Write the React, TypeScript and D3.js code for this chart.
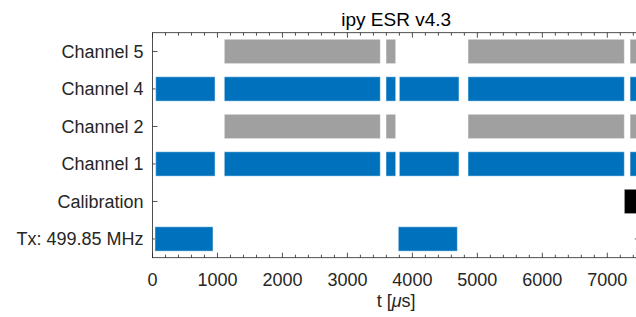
import React from "react";
import * as d3 from "d3";

// rows, top to bottom
const rows = ["Channel 5", "Channel 4", "Channel 2", "Channel 1", "Calibration", "Tx: 499.85 MHz"];

// pulse intervals in microseconds [start, end]
const channel5 = [[1105, 3506], [3594, 3743], [4856, 7262], [7350, 8000]];
const channel4 = [[49, 962], [1105, 3506], [3594, 3743], [3799, 4717], [4856, 7262], [7350, 8000]];
const channel2 = [[1105, 3506], [3594, 3743], [4856, 7262], [7350, 8000]];
const channel1 = [[49, 962], [1105, 3506], [3594, 3743], [3799, 4717], [4856, 7262], [7350, 8000]];
const calibration = [[7262, 8000]];
const tx = [[38, 931], [3783, 4692]];

const rowColors = ["#a0a0a0", "#0072bd", "#a0a0a0", "#0072bd", "#000000", "#0072bd"];
const rowData = [channel5, channel4, channel2, channel1, calibration, tx];

const xMajor = [0, 1000, 2000, 3000, 4000, 5000, 6000, 7000];
const xMinor = d3.range(0, 7501, 200);

const W = 636;
const H = 317;
const margin = { left: 152.5, right: 639.8, top: 32.7, bottom: 257.7 };
const axisColor = "#262626";
const font = "'Liberation Sans', Arial, Helvetica, sans-serif";

const App = () => {
  const x = d3.scaleLinear().domain([0, 7500]).range([margin.left, margin.right]);
  const y = d3.scalePoint().domain(rows).range([margin.top, margin.bottom]).padding(0.5);
  const step = y.step();
  const barH = step * 0.65;

  return (
    <svg
      width={W}
      height={H}
      style={{ position: "absolute", left: 0, top: 0, background: "#fff", fontFamily: font }}
    >
      <defs>
        <clipPath id="plot">
          <rect x={margin.left} y={margin.top} width={margin.right - margin.left} height={margin.bottom - margin.top} />
        </clipPath>
      </defs>

      {/* ticks sit under the data, like matlab's default layer */}
      <g stroke={axisColor} strokeWidth={0.8}>
        {xMinor.map((v) => {
          const len = v % 1000 === 0 ? 5 : 3;
          return (
            <g key={v}>
              <line x1={x(v)} x2={x(v)} y1={margin.bottom} y2={margin.bottom - len} />
              <line x1={x(v)} x2={x(v)} y1={margin.top} y2={margin.top + len} />
            </g>
          );
        })}
        {rows.map((r) => (
          <g key={r}>
            <line x1={margin.left} x2={margin.left + 5} y1={y(r)} y2={y(r)} />
            <line x1={margin.right} x2={margin.right - 5} y1={y(r)} y2={y(r)} />
          </g>
        ))}
      </g>

      {/* bars */}
      <g clipPath="url(#plot)">
        {rowData.map((segs, ri) =>
          segs.map((s, i) => (
            <rect
              key={`${ri}-${i}`}
              x={x(s[0])}
              y={y(rows[ri]) - barH / 2}
              width={x(s[1]) - x(s[0])}
              height={barH}
              fill={rowColors[ri]}
              stroke="#ffffff"
              strokeOpacity={0.45}
              strokeWidth={1}
            />
          ))
        )}
      </g>

      {/* axes box */}
      <rect
        x={margin.left}
        y={margin.top}
        width={margin.right - margin.left}
        height={margin.bottom - margin.top}
        fill="none"
        stroke={axisColor}
        strokeWidth={0.8}
      />

      {/* x tick labels */}
      <g fontSize={18} fill={axisColor} textAnchor="middle">
        {xMajor.map((v) => (
          <text key={v} x={x(v)} y={286}>
            {v}
          </text>
        ))}
      </g>

      {/* y tick labels */}
      <g fontSize={18} fill={axisColor} textAnchor="end">
        {rows.map((r) => (
          <text key={r} x={margin.left - 9} y={y(r) + 6.4}>
            {r}
          </text>
        ))}
      </g>

      {/* title */}
      <text x={(margin.left + margin.right) / 2} y={26} fontSize={19} textAnchor="middle" fill="#000">
        ipy ESR v4.3
      </text>

      {/* x label */}
      <text x={(margin.left + margin.right) / 2} y={307} fontSize={18} textAnchor="middle" fill={axisColor}>
        t [<tspan fontStyle="italic">μ</tspan>s]
      </text>
    </svg>
  );
};

export default App;
